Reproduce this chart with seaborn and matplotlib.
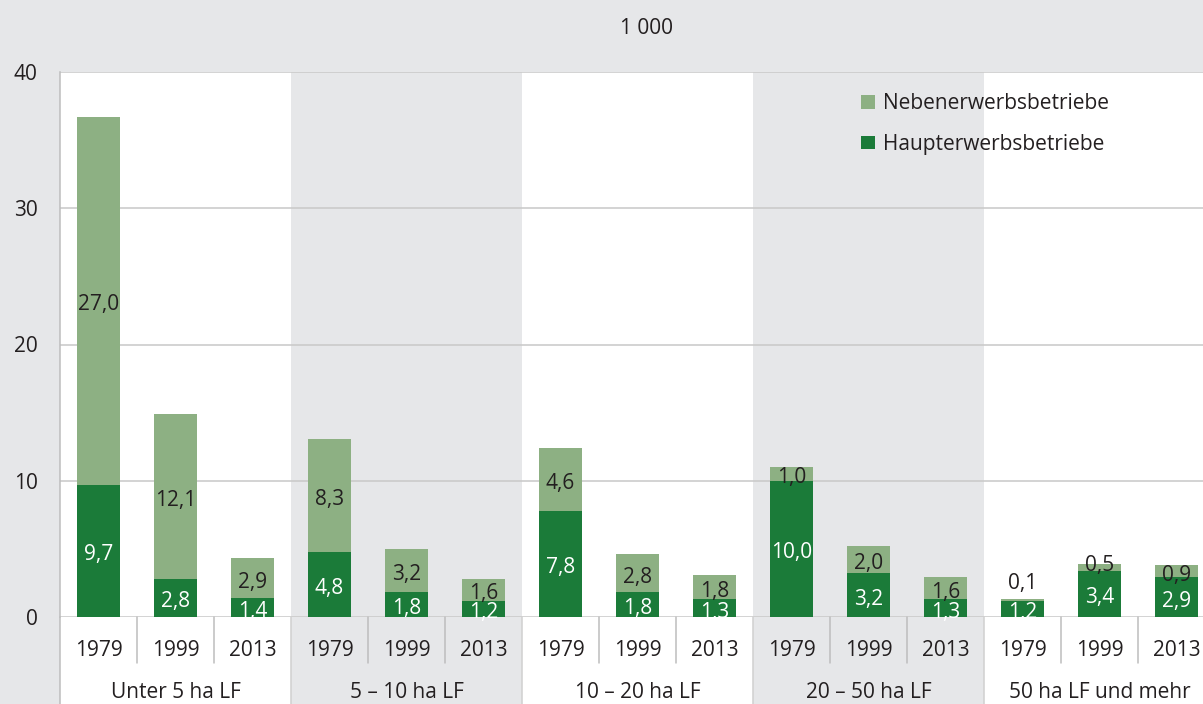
import matplotlib
matplotlib.use("Agg")
import matplotlib.pyplot as plt
import seaborn as sns
import pandas as pd
from matplotlib.lines import Line2D
from matplotlib.patches import Patch
import matplotlib.transforms as mtransforms

groups = ["Unter 5 ha LF", "5 – 10 ha LF", "10 – 20 ha LF", "20 – 50 ha LF", "50 ha LF und mehr"]
years = ["1979", "1999", "2013"]
haupt = [9.7, 2.8, 1.4, 4.8, 1.8, 1.2, 7.8, 1.8, 1.3, 10.0, 3.2, 1.3, 1.2, 3.4, 2.9]
neben = [27.0, 12.1, 2.9, 8.3, 3.2, 1.6, 4.6, 2.8, 1.8, 1.0, 2.0, 1.6, 0.1, 0.5, 0.9]
yticks = [0, 10, 20, 30, 40]
unit_label = "1 000"

BG = "#e6e7e9"
DARK = "#1b7b39"
LIGHT = "#8db083"
GRID = "#c8c8c8"
SEP = "#bdbdbd"
TXT = "#231f20"

sns.set_theme(style="white")
plt.rcParams["font.family"] = ["Open Sans", "DejaVu Sans"]

W, H = 1203, 704
fig = plt.figure(figsize=(W / 100, H / 100), dpi=100, facecolor=BG)
ax_left, ax_right, ax_bot, ax_top = 60, 1203, 617, 72
ax = fig.add_axes([ax_left / W, (H - ax_bot) / H, (ax_right - ax_left) / W, (ax_bot - ax_top) / H])
ax.set_facecolor(BG)

n = len(haupt)
df = pd.DataFrame({
    "pos": list(range(n)),
    "group": [g for g in groups for _ in years],
    "year": years * len(groups),
    "haupt": haupt,
    "neben": neben,
})
df["total"] = df["haupt"] + df["neben"]

trans = mtransforms.blended_transform_factory(ax.transData, ax.transAxes)
bottom_frac = -(H - ax_bot) / (ax_bot - ax_top)
for gi in range(len(groups)):
    if gi % 2 == 0:
        x0 = gi * 3 - 0.5
        ax.add_patch(plt.Rectangle((x0, bottom_frac), 3, 1 - bottom_frac, transform=trans,
                                   facecolor="white", edgecolor="none", zorder=0, clip_on=False))

order = list(range(n))
sns.barplot(data=df, x="pos", y="total", order=order, color=LIGHT, width=0.55,
            saturation=1, ax=ax, zorder=3, edgecolor="none", linewidth=0)
sns.barplot(data=df, x="pos", y="haupt", order=order, color=DARK, width=0.55,
            saturation=1, ax=ax, zorder=4, edgecolor="none", linewidth=0)

xmax = -0.5 + (ax_right - ax_left) / 77.0
ax.set_xlim(-0.5, xmax)
ax.set_ylim(0, 40)

for yv in yticks:
    ax.axhline(yv, color=GRID, lw=1.1, zorder=1)
ax.set_yticks(yticks)
ax.set_yticklabels([str(v) for v in yticks], fontsize=15, color=TXT)
ax.tick_params(axis="y", length=5, width=1.1, color=GRID, pad=11)
ax.set_xticks(range(n))
ax.set_xticklabels([""] * n)
ax.tick_params(axis="x", length=0)
ax.set_xlabel("")
ax.set_ylabel("")
for s in ["top", "right", "bottom"]:
    ax.spines[s].set_visible(False)
ax.spines["left"].set_color(SEP)
ax.spines["left"].set_linewidth(1.1)

lbl_tr = mtransforms.offset_copy(ax.transData, fig=fig, x=0, y=-4, units="dots")
fmt = lambda v: f"{v:.1f}".replace(".", ",")
for i, row in df.iterrows():
    ax.text(row["pos"], row["haupt"] / 2, fmt(row["haupt"]), ha="center", va="center",
            color="white", fontsize=15, zorder=6, transform=lbl_tr)
    if row["neben"] < 0.3:
        ly = row["total"] + 1.45
    elif row["neben"] < 0.8:
        ly = row["haupt"] + row["neben"] / 2 + 0.45
    else:
        ly = row["haupt"] + row["neben"] / 2
    ax.text(row["pos"], ly, fmt(row["neben"]), ha="center", va="center",
            color=TXT, fontsize=15, zorder=6, transform=lbl_tr)

px = 1.0 / (ax_bot - ax_top)
year_y = -(650 - ax_bot) * px
group_y = -(692 - ax_bot) * px
sep_y = -(663 - ax_bot) * px
for i in range(n):
    ax.text(i, year_y, df["year"][i], transform=trans, ha="center", va="center",
            fontsize=15, color=TXT, clip_on=False)
for gi, g in enumerate(groups):
    ax.text(gi * 3 + 1, group_y, g, transform=trans, ha="center", va="center",
            fontsize=15, color=TXT, clip_on=False)
    for k in (0.5, 1.5):
        ax.add_line(Line2D([gi * 3 + k] * 2, [0, sep_y], transform=trans, color=SEP,
                           lw=1.1, clip_on=False, zorder=5))
    xg = gi * 3 - 0.5
    ax.add_line(Line2D([xg, xg], [0, bottom_frac], transform=trans, color=SEP if gi == 0 else "#d0d0d0",
                       lw=1.1, clip_on=False, zorder=5))

fig.text(646 / W, 1 - 28 / H, unit_label, ha="center", va="center", fontsize=15, color=TXT)

handles = [Patch(facecolor=LIGHT, edgecolor="none", label="Nebenerwerbsbetriebe"),
           Patch(facecolor=DARK, edgecolor="none", label="Haupterwerbsbetriebe")]
leg = fig.legend(handles=handles, loc="upper left", bbox_to_anchor=(861 / W, 1 - 93 / H),
                 frameon=False, fontsize=15, handlelength=0.65, handleheight=0.65,
                 handletextpad=0.4, labelspacing=0.95, borderaxespad=0, borderpad=0)
for t in leg.get_texts():
    t.set_color(TXT)

fig.savefig("out.png", dpi=100, facecolor=BG)
